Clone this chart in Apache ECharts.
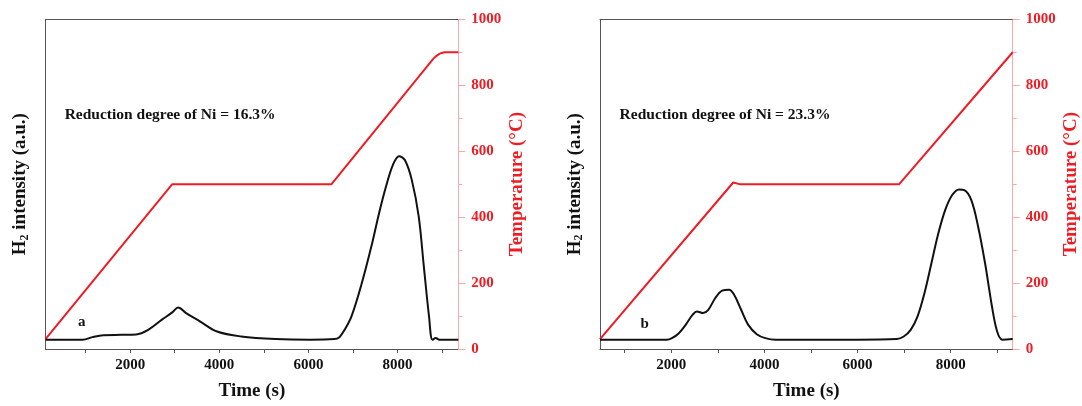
<!DOCTYPE html>
<html><head><meta charset="utf-8">
<script src="https://cdn.jsdelivr.net/npm/echarts@6/dist/echarts.min.js"></script>
<style>html,body{margin:0;padding:0;background:#fff}#c{width:1082px;height:406px}</style>
</head><body><div id="c"></div>
<script>
// ---- Panel a data ----
const timeA = [100,500,935,1150,1400,1800,2133,2404,2713,2945,3077,3255,3564,3950,4490,5265,6038,6580,6695,6811,6966,7198,7430,7585,7739,7894,8033,8164,8319,8474,8590,8706,8783,8860,8938,9100,9363];
const intensityA = [28,28,28,36,42,43,44,58,89,111,126,109,84,53,38,30,28,30,36,58,99,200,321,412,492,558,585,573,513,402,250,99,28,33,28,28,28];
const tempTimeA = [100,2945,6518,8800,8880,8940,8990,9055,9200,9363];
const tempA = [30,500,500,880,890,895,898,900,900,900];
// ---- Panel b data ----
const timeB = [470,1000,1500,1903,2015,2163,2312,2460,2550,2683,2795,2943,3092,3240,3352,3500,3649,3835,4020,4243,5000,6000,6842,6991,7140,7288,7437,7585,7734,7882,8031,8180,8291,8440,8588,8737,8885,8996,9108,9330];
const intensityB = [28,28,28,28,33,48,74,104,114,109,119,154,177,180,164,119,74,45,33,28,28,28,30,38,58,99,170,260,351,422,467,484,482,452,371,260,129,53,28,30];
const tempTimeB = [470,3330,3463,6894,9330];
const tempB = [30,505,500,500,900];
// ---- axis ticks / labels ----
const xTicks = [1000,2000,3000,4000,5000,6000,7000,8000,9000];
const xLabels = [2000,4000,6000,8000];
const rangeA = [100, 9363];
const rangeB = [470, 9330];
const noteA = 'Reduction degree of Ni = 16.3%';
const noteB = 'Reduction degree of Ni = 23.3%';

const RED = '#ee1c24';
const PINK = '#ffa6a6';
const GRAY = '#555';
const FONT = 'Liberation Serif';

const chart = echarts.init(document.getElementById('c'), null, {renderer: 'canvas'});
const zip = (a, b) => a.map((v, i) => [v, b[i]]);
const plain = v => String(v);

function xAxisMain(gi, r) {
  return {
    type: 'value', gridIndex: gi, min: r[0], max: r[1], position: 'bottom',
    name: 'Time (s)', nameLocation: 'middle', nameGap: 33,
    nameTextStyle: {fontFamily: FONT, fontWeight: 'bold', fontSize: 19, color: '#111'},
    axisLine: {show: true, onZero: false, lineStyle: {color: GRAY, width: 1}},
    axisTick: {show: true, inside: false, length: 4, customValues: xTicks, lineStyle: {color: GRAY}},
    axisLabel: {customValues: xLabels, formatter: plain, margin: 9, fontFamily: FONT, fontWeight: 'bold', fontSize: 15, color: '#111'},
    splitLine: {show: false}
  };
}
function xAxisTop(gi, r) {
  return {
    type: 'value', gridIndex: gi, min: r[0], max: r[1], position: 'top',
    axisLine: {show: true, onZero: false, lineStyle: {color: GRAY, width: 1}},
    axisTick: {show: false}, axisLabel: {show: false}, splitLine: {show: false}
  };
}
function yAxisLeft(gi) {
  return {
    type: 'value', gridIndex: gi, min: 0, max: 1000, position: 'left',
    name: '{m|H}{s|2}{m| intensity (a.u.)}', nameLocation: 'middle', nameGap: 15, nameRotate: 90,
    nameTextStyle: {fontFamily: FONT, fontWeight: 'bold', fontSize: 19, color: '#111',
      rich: {m: {fontFamily: FONT, fontWeight: 'bold', fontSize: 19, color: '#111'},
             s: {fontFamily: FONT, fontWeight: 'bold', fontSize: 12, color: '#111', padding: [8, 0, 0, 0]}}},
    axisLine: {show: true, onZero: false, lineStyle: {color: GRAY, width: 1}},
    axisTick: {show: false}, axisLabel: {show: false}, splitLine: {show: false}
  };
}
function yAxisRight(gi) {
  return {
    type: 'value', gridIndex: gi, min: 0, max: 1000, interval: 200, position: 'right',
    name: 'Temperature (°C)', nameLocation: 'middle', nameGap: 49, nameRotate: 90,
    nameTextStyle: {fontFamily: FONT, fontWeight: 'bold', fontSize: 19, color: RED},
    axisLine: {show: true, onZero: false, lineStyle: {color: PINK, width: 1}},
    axisTick: {show: true, inside: false, length: 7, lineStyle: {color: PINK}},
    minorTick: {show: true, splitNumber: 2, length: 4, lineStyle: {color: PINK}},
    axisLabel: {margin: 13, formatter: plain, fontFamily: FONT, fontWeight: 'bold', fontSize: 15, color: RED},
    splitLine: {show: false}
  };
}

const option = {
  animation: false,
  backgroundColor: '#fff',
  grid: [
    {left: 45.5, top: 19.3, width: 412.8, height: 330},
    {left: 600, top: 19.3, width: 412.7, height: 330}
  ],
  xAxis: [xAxisMain(0, rangeA), xAxisTop(0, rangeA), xAxisMain(1, rangeB), xAxisTop(1, rangeB)],
  yAxis: [yAxisLeft(0), yAxisRight(0), yAxisLeft(1), yAxisRight(1)],
  series: [
    {type: 'line', xAxisIndex: 0, yAxisIndex: 0, data: zip(timeA, intensityA), showSymbol: false, smooth: 0.35,
     lineStyle: {color: '#111', width: 2}, z: 3},
    {type: 'line', xAxisIndex: 0, yAxisIndex: 1, data: zip(tempTimeA, tempA), showSymbol: false, smooth: false,
     lineStyle: {color: RED, width: 2}, z: 2},
    {type: 'line', xAxisIndex: 2, yAxisIndex: 2, data: zip(timeB, intensityB), showSymbol: false, smooth: 0.35,
     lineStyle: {color: '#111', width: 2}, z: 3},
    {type: 'line', xAxisIndex: 2, yAxisIndex: 3, data: zip(tempTimeB, tempB), showSymbol: false, smooth: false,
     lineStyle: {color: RED, width: 2}, z: 2}
  ]
};
chart.setOption(option);

// annotations anchored in data space
function txt(gi, xy, text, size) {
  const p = chart.convertToPixel({gridIndex: gi}, xy);
  return {type: 'text', x: p[0], y: p[1], z: 10,
    style: {text: text, fontFamily: FONT, fontWeight: 'bold', fontSize: size, fill: '#111',
            align: 'left', verticalAlign: 'middle'}};
}
chart.setOption({graphic: [
  txt(0, [530, 710], noteA, 15.5),
  txt(0, [830, 83], 'a', 15),
  txt(1, [890, 710], noteB, 15.5),
  txt(1, [1340, 74], 'b', 15)
]});
</script></body></html>
